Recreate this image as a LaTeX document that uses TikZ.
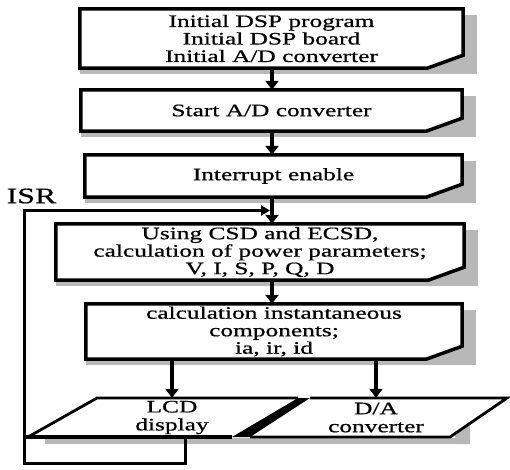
\documentclass[tikz,border=0pt]{standalone}
\usepackage{fontspec}
\setmainfont{Liberation Serif}[FakeStretch=1.45,FakeBold=0.7]
\usetikzlibrary{arrows.meta,backgrounds,calc}

\tikzset{
  proc/.style={draw=none, inner sep=0pt, align=center,
    font=\fontsize{17.5}{17.5}\selectfont},
  io/.style={draw=none, inner sep=0pt, align=center, minimum height=39,
    font=\fontsize{17.5}{18}\selectfont},
  boxline/.style={line width=3.5pt, fill=white},
  boxshade/.style={fill=black!28},
  arr/.style={line width=3.5pt, -{Triangle[width=13pt,length=9pt]}},
  isrline/.style={line width=3pt, -{Triangle[width=10pt,length=9pt]}},
  paraline/.style={line width=2.8pt, line join=miter},
}

\begin{document}
\begin{tikzpicture}[x=1pt,y=-1pt]
\useasboundingbox (0,0) rectangle (510,469);

% process boxes
\node[proc, minimum width=383, minimum height=59] (b1) at (271.5,38.5)
  {Initial DSP program\\Initial DSP board\\Initial A/D converter};
\node[proc, minimum width=381, minimum height=41] (b2) at (271.5,110.5)
  {Start A/D converter};
\node[proc, minimum width=377, minimum height=42] (b3) at (273.5,176)
  {Interrupt enable};
\node[proc, minimum width=408, minimum height=56] (b4) at (260,252)
  {Using CSD and ECSD,\\calculation of power parameters;\\V, I, S, P, Q, D};
\node[proc, minimum width=376, minimum height=55] (b5) at (274,331.5)
  {calculation instantaneous\\components;\\ia, ir, id};

% output blocks
\node[io, minimum width=150] (lcd) at (172,417.5) {LCD\\display};
\node[io, minimum width=150] (da) at (376,417.5) {D/A\\converter};

\node[font=\fontsize{22}{22}\selectfont, inner sep=0pt] (isr) at (31.5,196) {ISR};

\coordinate (spine) at (272,0);

% outlines with cut corner and grey shadow
\begin{scope}[on background layer]
  \foreach \n in {b1,b2,b3,b4,b5}{
    \fill[boxshade] ([yshift=-6pt]\n.north west) rectangle ([xshift=14pt,yshift=-6pt]\n.south east);
    \filldraw[boxline] (\n.south west) -- (\n.north west) -- (\n.north east)
      -- ([yshift=13pt]\n.south east) -- ([xshift=-36pt]\n.south east) -- cycle;
  }
  % shadow under the output blocks
  \fill[boxshade] (45,438) rectangle (455,444);
  \fill[boxshade] (455,410) -- (470,398) -- (470,444) -- (455,444) -- cycle;
  % LCD display block
  \fill[white] (28,437) -- (97,398) -- (298,398) -- (232,437) -- cycle;
  \draw[paraline] (28,437) -- (97,398) -- (298,398);
  \draw[line width=3.5pt] (24,437) -- (232,437);
  % D/A converter block
  \fill[white] (250,437) -- (310,398) -- (507,398) -- (450,437) -- cycle;
  \draw[paraline] (310,398) -- (507,398) -- (450,437) -- (250,437);
  % dark band between the two blocks
  \fill[black] (232,437) -- (298,398) -- (310,398) -- (250,437) -- cycle;
\end{scope}

% main flow
\draw[arr] (b1.south -| spine) -- (b2.north -| spine);
\draw[arr] (b2.south -| spine) -- (b3.north -| spine);
\draw[arr] (b3.south -| spine) -- (b4.north -| spine);
\draw[arr] (b4.south -| spine) -- (b5.north -| spine);
\draw[arr] (b5.south -| lcd.north) -- (lcd.north);
\draw[arr] (b5.south -| da.north) -- (da.north);

% interrupt service routine loop
\coordinate (mid) at ($(b3.south -| spine)!0.5!(b4.north -| spine)$);
\coordinate (ret) at (185,437);
\draw[isrline, shorten >=2pt] (ret) -- ++(0,26) -- ++(-161,0) |- (mid);
\end{tikzpicture}
\end{document}
